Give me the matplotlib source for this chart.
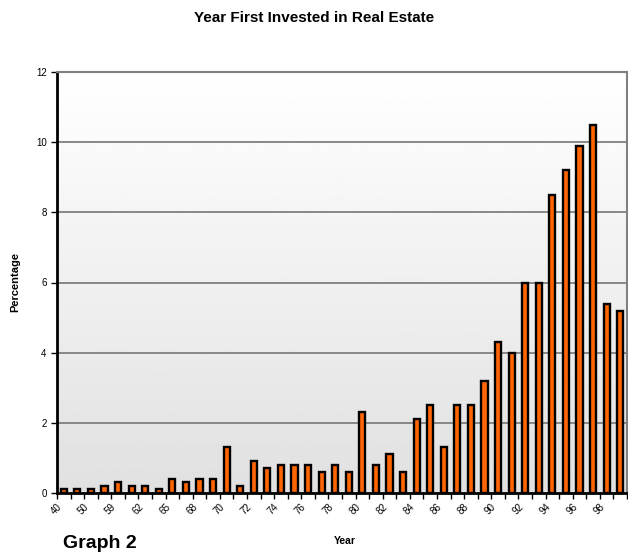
import numpy as np
import matplotlib
matplotlib.use("Agg")
import matplotlib.pyplot as plt

plt.rcParams['font.family'] = ['Liberation Sans', 'DejaVu Sans']

# percentage of respondents per year of first investment (one bar per year)
percentages = [0.1, 0.1, 0.1, 0.2, 0.3, 0.2, 0.2, 0.1, 0.4, 0.3, 0.4, 0.4,
               1.3, 0.2, 0.9, 0.7, 0.8, 0.8, 0.8, 0.6, 0.8, 0.6, 2.3, 0.8,
               1.1, 0.6, 2.1, 2.5, 1.3, 2.5, 2.5, 3.2, 4.3, 4.0, 6.0, 6.0,
               8.5, 9.2, 9.9, 10.5, 5.4, 5.2]
# labels shown on every second bar
year_labels = ['40', '50', '59', '62', '65', '68', '70', '72', '74', '76', '78',
               '80', '82', '84', '86', '88', '90', '92', '94', '96', '98']
y_ticks = [0, 2, 4, 6, 8, 10, 12]

fig = plt.figure(figsize=(6.28, 5.54), dpi=100)
ax = fig.add_axes([57 / 628, 1 - 493 / 554, 570 / 628, 421 / 554])

n = len(percentages)
x = np.arange(n)

# white-to-grey gradient behind the bars
grad = np.linspace(1.0, 0.88, 256).reshape(-1, 1)
ax.imshow(grad, cmap='gray', vmin=0, vmax=1, aspect='auto',
          extent=[-0.5, n - 0.5, 0, 12], zorder=0)

for y in y_ticks[1:]:
    ax.axhline(y, color='#808080', lw=1.3, zorder=1)

# faint shadow, then the bars
ax.bar(x + 0.08, percentages, width=0.45, bottom=-0.03, color='#b0b0b0',
       zorder=2)
ax.bar(x, percentages, width=0.45, color='#ff6600', edgecolor='black',
       linewidth=1.7, zorder=3)

ax.set_xlim(-0.5, n - 0.5)
ax.set_ylim(0, 12)

ax.set_xticks(x[::2])
ax.set_xticklabels(year_labels, rotation=45, ha='right', va='top', fontsize=7)
ax.set_xticks(np.arange(n + 1) - 0.5, minor=True)
ax.tick_params(axis='x', which='major', length=0, pad=6)
ax.tick_params(axis='x', which='minor', length=4, width=1, direction='out')
ax.set_yticks(y_ticks)
ax.tick_params(axis='y', labelsize=7, length=4, width=1)

ax.spines['left'].set_linewidth(2)
ax.spines['bottom'].set_linewidth(2)
ax.spines['top'].set_color('#808080')
ax.spines['top'].set_linewidth(1.5)
ax.spines['right'].set_color('#808080')
ax.spines['right'].set_linewidth(1.5)

fig.text(0.5, 1 - 18 / 554, 'Year First Invested in Real Estate',
         ha='center', va='center', fontsize=11, fontweight='bold')
fig.text(15 / 628, 1 - 282 / 554, 'Percentage', rotation=90,
         ha='center', va='center', fontsize=8, fontweight='bold')
fig.text(345 / 628, 1 - 541 / 554, 'Year', ha='center', va='center',
         fontsize=7.5, fontweight='bold')
fig.text(63 / 628, 1 - 552 / 554, 'Graph 2', ha='left', va='bottom',
         fontsize=14, fontweight='bold')

fig.savefig('out.png', dpi=100)
